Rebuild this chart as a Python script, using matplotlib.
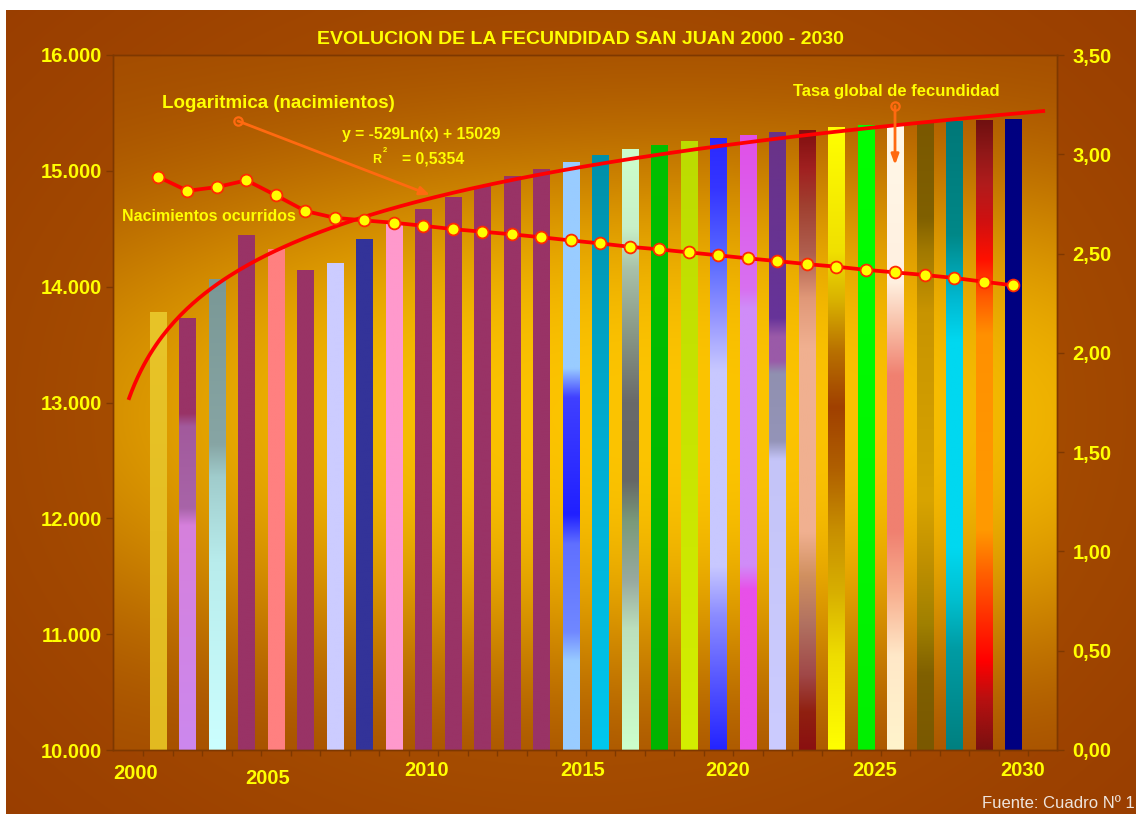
import numpy as np
import matplotlib
matplotlib.use('Agg')
import matplotlib.pyplot as plt
from matplotlib import font_manager
from matplotlib.colors import to_rgb
from matplotlib.transforms import blended_transform_factory

# ---------------- data ----------------
YEARS = list(range(2001, 2031))
BIRTHS = [13779, 13721, 14058, 14443, 14317, 14138, 14196, 14409, 14541, 14662,
          14772, 14863, 14950, 15013, 15074, 15134, 15186, 15221, 15252, 15281,
          15309, 15329, 15347, 15370, 15391, 15395, 15410, 15424, 15433, 15445]
TGF = [2.887, 2.816, 2.835, 2.869, 2.793, 2.714, 2.680, 2.667, 2.655, 2.640,
       2.623, 2.610, 2.597, 2.582, 2.566, 2.551, 2.534, 2.521, 2.506, 2.491,
       2.476, 2.462, 2.447, 2.434, 2.418, 2.405, 2.392, 2.377, 2.358, 2.340]
LEFT_TICKS = [10000, 11000, 12000, 13000, 14000, 15000, 16000]
LEFT_TICK_LABELS = ['10.000', '11.000', '12.000', '13.000', '14.000', '15.000', '16.000']
RIGHT_TICKS = [0.0, 0.5, 1.0, 1.5, 2.0, 2.5, 3.0, 3.5]
RIGHT_TICK_LABELS = ['0,00', '0,50', '1,00', '1,50', '2,00', '2,50', '3,00', '3,50']
YEAR_LABELS = ['2000', '2005', '2010', '2015', '2020', '2025', '2030']
TITLE = 'EVOLUCION DE LA FECUNDIDAD SAN JUAN 2000 - 2030'
EQUATION = 'y = -529Ln(x) + 15029'
R2_TEXT = '= 0,5354'
SOURCE = 'Fuente: Cuadro Nº 1'

# ---------------- styles ----------------
P = '#993366'
BAR_STYLES = [
    [(0, '#e8c428'), (1, '#e2ba20')],
    [(0, P), (0.22, P), (0.25, '#a25a9c'), (0.44, '#a864a8'), (0.48, '#d680dc'), (1, '#cc88ee')],
    [(0, '#7a9896'), (0.35, '#87a5a4'), (0.42, '#a0cccc'), (0.6, '#b8ecec'), (1, '#ccffff')],
    [(0, P), (1, P)],
    [(0, '#ff8080'), (1, '#ff8080')],
    [(0, P), (1, P)],
    [(0, '#ccccff'), (1, '#ccccff')],
    [(0, '#333399'), (1, '#333399')],
    [(0, '#ff99cc'), (1, '#ff99cc')],
    [(0, P), (1, P)],
    [(0, P), (1, P)],
    [(0, P), (1, P)],
    [(0, P), (1, P)],
    [(0, P), (1, P)],
    [(0, '#99ccff'), (0.35, '#99ccff'), (0.40, '#4040ff'), (0.6, '#2020ff'), (0.65, '#6070ff'),
     (0.8, '#7088ff'), (0.85, '#99ccff'), (1, '#99ccff')],
    [(0, '#0090a8'), (0.4, '#00a8cc'), (1, '#00c8ee')],
    [(0, '#ccffcc'), (0.13, '#c8f0c8'), (0.2, '#a8c0a8'), (0.3, '#8a9a88'), (0.42, '#6a6a6a'),
     (0.55, '#666666'), (0.62, '#7a9a7a'), (0.72, '#99aaa0'), (0.8, '#bce0bc'), (1, '#ccffcc')],
    [(0, '#00c000'), (1, '#00b400')],
    [(0, '#bcdc00'), (1, '#d4ee00')],
    [(0, '#2a2aff'), (0.08, '#3535ff'), (0.2, '#5a6aff'), (0.3, '#9a9aff'), (0.38, '#c8c8ff'),
     (0.7, '#c8c8ff'), (0.78, '#8c8cff'), (0.88, '#5a5aff'), (1, '#2424ff')],
    [(0, '#e050e8'), (0.25, '#d870f0'), (0.28, '#d08cf8'), (0.7, '#d08cf8'), (0.74, '#e850e8'), (1, '#e850e8')],
    [(0, '#6a3388'), (0.3, '#663399'), (0.33, '#9a5aa8'), (0.37, '#9a5aa8'), (0.39, '#9090b0'),
     (0.5, '#9494b8'), (0.53, '#c4c4f8'), (1, '#ccccff')],
    [(0, '#801010'), (0.06, '#a02020'), (0.12, '#a04030'), (0.2, '#b06050'), (0.27, '#e09878'),
     (0.35, '#f0b090'), (0.65, '#f0b090'), (0.72, '#d09060'), (0.8, '#b07060'), (0.88, '#a04848'),
     (0.94, '#902010'), (1, '#8a1010')],
    [(0, '#ffff00'), (0.2, '#f0e000'), (0.28, '#d8b000'), (0.36, '#b87000'), (0.45, '#a04000'),
     (0.55, '#b06000'), (0.65, '#c89000'), (0.75, '#d8b000'), (0.85, '#eedd00'), (1, '#ffff00')],
    [(0, '#00ff00'), (1, '#00f000')],
    [(0, '#fff8e8'), (0.25, '#fff0e0'), (0.32, '#f8c0a8'), (0.4, '#f08070'), (0.65, '#f08070'),
     (0.75, '#f8b090'), (0.85, '#ffe8c8'), (1, '#fff4cc')],
    [(0, '#7a5800'), (0.15, '#806000'), (0.2, '#a07800'), (0.3, '#c89400'), (0.6, '#d8a400'),
     (0.7, '#c09000'), (0.8, '#a08000'), (0.88, '#806000'), (1, '#7a5800')],
    [(0, '#007878'), (0.18, '#008888'), (0.28, '#00b8d0'), (0.35, '#00d8f0'), (0.68, '#00d8f0'),
     (0.76, '#00c0d0'), (0.84, '#009ca4'), (1, '#008080')],
    [(0, '#701010'), (0.05, '#901818'), (0.1, '#b01c1c'), (0.16, '#d01010'), (0.22, '#ff1000'),
     (0.28, '#ff5a00'), (0.34, '#ff9000'), (0.65, '#ff9a00'), (0.72, '#ff6000'), (0.8, '#ff2800'),
     (0.86, '#ff0000'), (0.92, '#b81010'), (1, '#7a1010')],
    [(0, '#000080'), (1, '#000080')],
]

YELLOW = '#ffff00'
ORANGE = '#ff6a10'
RED = '#ff0000'
SPINE = '#7e3800'

names = {f.name for f in font_manager.fontManager.ttflist}
BASE = 'Liberation Sans' if 'Liberation Sans' in names else 'DejaVu Sans'
NARROW = 'Liberation Sans Narrow' if 'Liberation Sans Narrow' in names else BASE
plt.rcParams['font.family'] = [BASE, 'DejaVu Sans']

W, H = 1136, 814
fig = plt.figure(figsize=(W / 100, H / 100), dpi=100, facecolor='white')


def radial(nx, ny, cx, cy, sx, sy, c_dark, c_light, power=1.0):
    x = np.linspace(0, 1, nx)[None, :]
    y = np.linspace(1, 0, ny)[:, None]
    r2 = ((x - cx) / sx) ** 2 + ((y - cy) / sy) ** 2
    f = np.exp(-(r2 ** power))
    d = np.array(to_rgb(c_dark))
    l = np.array(to_rgb(c_light))
    return d[None, None, :] * (1 - f[..., None]) + l[None, None, :] * f[..., None]


# figure background (brown frame)
ax_fig = fig.add_axes([6 / W, 0, 1 - 6 / W, (H - 10) / H], zorder=-5)
ax_fig.imshow(radial(300, 220, 0.5, 0.5, 0.55, 0.6, '#933600', '#b25c00'),
              extent=(0, 1, 0, 1), aspect='auto', interpolation='bilinear')
ax_fig.set_axis_off()

# plot area position
L, R, T, B = 113, 1057, 55, 750
pos = [L / W, (H - B) / H, (R - L) / W, (B - T) / H]

ax_bg = fig.add_axes(pos, zorder=0)
ax_bg.imshow(radial(300, 300, 0.6, 0.48, 0.75, 0.38, '#a24a00', '#fcc400', power=1.4),
             extent=(0, 1, 0, 1), aspect='auto', interpolation='bilinear')
ax_bg.set_axis_off()

ax = fig.add_axes(pos, zorder=1)
ax.set_facecolor('none')

YMIN, YMAX = 10000, 16000
XMIN, XMAX = 1999.475, 2031.475

bars = ax.bar(YEARS, BIRTHS, width=0.55, linewidth=0, zorder=2)
for rect, stops in zip(bars, BAR_STYLES):
    pos_s = [s[0] for s in stops]
    cols = np.array([to_rgb(s[1]) for s in stops])
    t = np.linspace(0, 1, 300)
    img = np.stack([np.interp(t, pos_s, cols[:, k]) for k in range(3)], axis=-1)[:, None, :]
    rect.set_facecolor(stops[0][1])
    x0, w, h = rect.get_x(), rect.get_width(), rect.get_height()
    ax.imshow(img, extent=(x0, x0 + w, YMIN, h), aspect='auto', zorder=2.1,
              clip_path=rect, interpolation='bilinear', origin='upper')

# logarithmic trend of births
yrs = np.array(YEARS, dtype=float)
coef = np.polyfit(np.log(yrs - 1999), np.array(BIRTHS, dtype=float), 1)
tx = np.linspace(2000.0, 2031.07, 300)
ax.plot(tx, np.polyval(coef, np.log(tx - 1999)), color=RED, lw=2.7, zorder=4,
        solid_capstyle='butt')

ax.set_xlim(XMIN, XMAX)
ax.set_ylim(YMIN, YMAX)
ax.set_yticks(LEFT_TICKS)
ax.set_yticklabels(LEFT_TICK_LABELS)
ax.set_xticks([])
ax.set_xticks([y + 0.5 for y in range(2000, 2031)], minor=True)
ax.tick_params(axis='x', which='minor', direction='out', length=4, width=1, color=SPINE)
ax.tick_params(axis='y', direction='out', length=5, width=1, color=SPINE, pad=3,
               labelcolor=YELLOW, labelsize=14.5)
for lab in ax.get_yticklabels():
    lab.set_fontweight('bold')
for s in ax.spines.values():
    s.set_color(SPINE)
    s.set_linewidth(1.0)

# right axis: fertility rate
ax2 = ax.twinx()
ax2.set_zorder(2)
ax2.set_facecolor('none')
ax2.plot(YEARS, TGF, color=RED, lw=2.7, marker='o', ms=8.5, mfc=YELLOW, mec='#ff2a00',
         mew=1.3, zorder=5)
ax2.set_ylim(0, 3.5)
ax2.set_yticks(RIGHT_TICKS)
ax2.set_yticklabels(RIGHT_TICK_LABELS)
ax2.tick_params(axis='y', direction='out', length=5, width=1, color=SPINE, pad=6,
                labelcolor=YELLOW, labelsize=14.5)
for lab in ax2.get_yticklabels():
    lab.set_fontweight('bold')
for s in ax2.spines.values():
    s.set_color(SPINE)
    s.set_linewidth(1.0)
ax2.set_xlim(XMIN, XMAX)

# year labels (staggered, as in the original)
YEAR_LABEL_X = [2000.25, 2004.73, 2010.12, 2015.41, 2020.32, 2025.31, 2030.32]
YEAR_LABEL_Y = [-0.0345, -0.0405, -0.0302, -0.0302, -0.0302, -0.0302, -0.0302]
btr = blended_transform_factory(ax.transData, ax.transAxes)
ysize = 17 if NARROW != BASE else 14.5
for lx, ly, lab in zip(YEAR_LABEL_X, YEAR_LABEL_Y, YEAR_LABELS):
    ax.text(lx, ly, lab, transform=btr, ha='center', va='center', color=YELLOW,
            fontsize=ysize, fontweight='bold', family=[NARROW, 'DejaVu Sans'], clip_on=False)

# title
fig.text(0.511, 0.951, TITLE, ha='center', va='center', color=YELLOW, fontsize=14,
         fontweight='bold')

# annotations
ta = ax.transAxes
ax.text(0.0522, 0.930, 'Logaritmica (nacimientos)', transform=ta, ha='left', va='center',
        color=YELLOW, fontsize=13.5, fontweight='bold', zorder=6)
ax.annotate('', xy=(0.3358, 0.7986), xytext=(0.1324, 0.905), xycoords=ta, textcoords=ta,
            arrowprops=dict(arrowstyle='-|>,head_length=0.6,head_width=0.25', color=ORANGE,
                            lw=2.0, shrinkA=0, shrinkB=0), zorder=6)
ax.plot([0.1324], [0.905], transform=ta, marker='o', ms=6, mfc='none', mec=ORANGE, mew=1.6,
        zorder=6, clip_on=False)

ax.text(0.3263, 0.8849, EQUATION, transform=ta, ha='center', va='center', color=YELLOW,
        fontsize=11.3, fontweight='bold', zorder=6)
ax.text(0.2797, 0.849, 'R', transform=ta, ha='center', va='center', color=YELLOW,
        fontsize=9, fontweight='bold', zorder=6)
ax.text(0.2876, 0.862, '2', transform=ta, ha='center', va='center', color=YELLOW,
        fontsize=5.5, fontweight='bold', zorder=6)
ax.text(0.3061, 0.8504, R2_TEXT, transform=ta, ha='left', va='center', color=YELLOW,
        fontsize=11.3, fontweight='bold', zorder=6)

ax.text(0.0095, 0.7673, 'Nacimientos ocurridos', transform=ta, ha='left', va='center',
        color=YELLOW, fontsize=11.5, fontweight='bold', zorder=6)

ax.text(0.8295, 0.9468, 'Tasa global de fecundidad', transform=ta, ha='center', va='center',
        color=YELLOW, fontsize=12, fontweight='bold', zorder=6)
ax.annotate('', xy=(0.8284, 0.8417), xytext=(0.8284, 0.9266), xycoords=ta, textcoords=ta,
            arrowprops=dict(arrowstyle='-|>,head_length=0.6,head_width=0.22', color=ORANGE,
                            lw=2.0, shrinkA=0, shrinkB=0), zorder=6)
ax.plot([0.8284], [0.9266], transform=ta, marker='o', ms=6, mfc='none', mec=ORANGE, mew=1.6,
        zorder=6, clip_on=False)

# source
fig.text(0.9985, 0.0135, SOURCE, ha='right', va='center', color='#eee4dc', fontsize=12)

fig.savefig('out.png', dpi=100, facecolor='white')
